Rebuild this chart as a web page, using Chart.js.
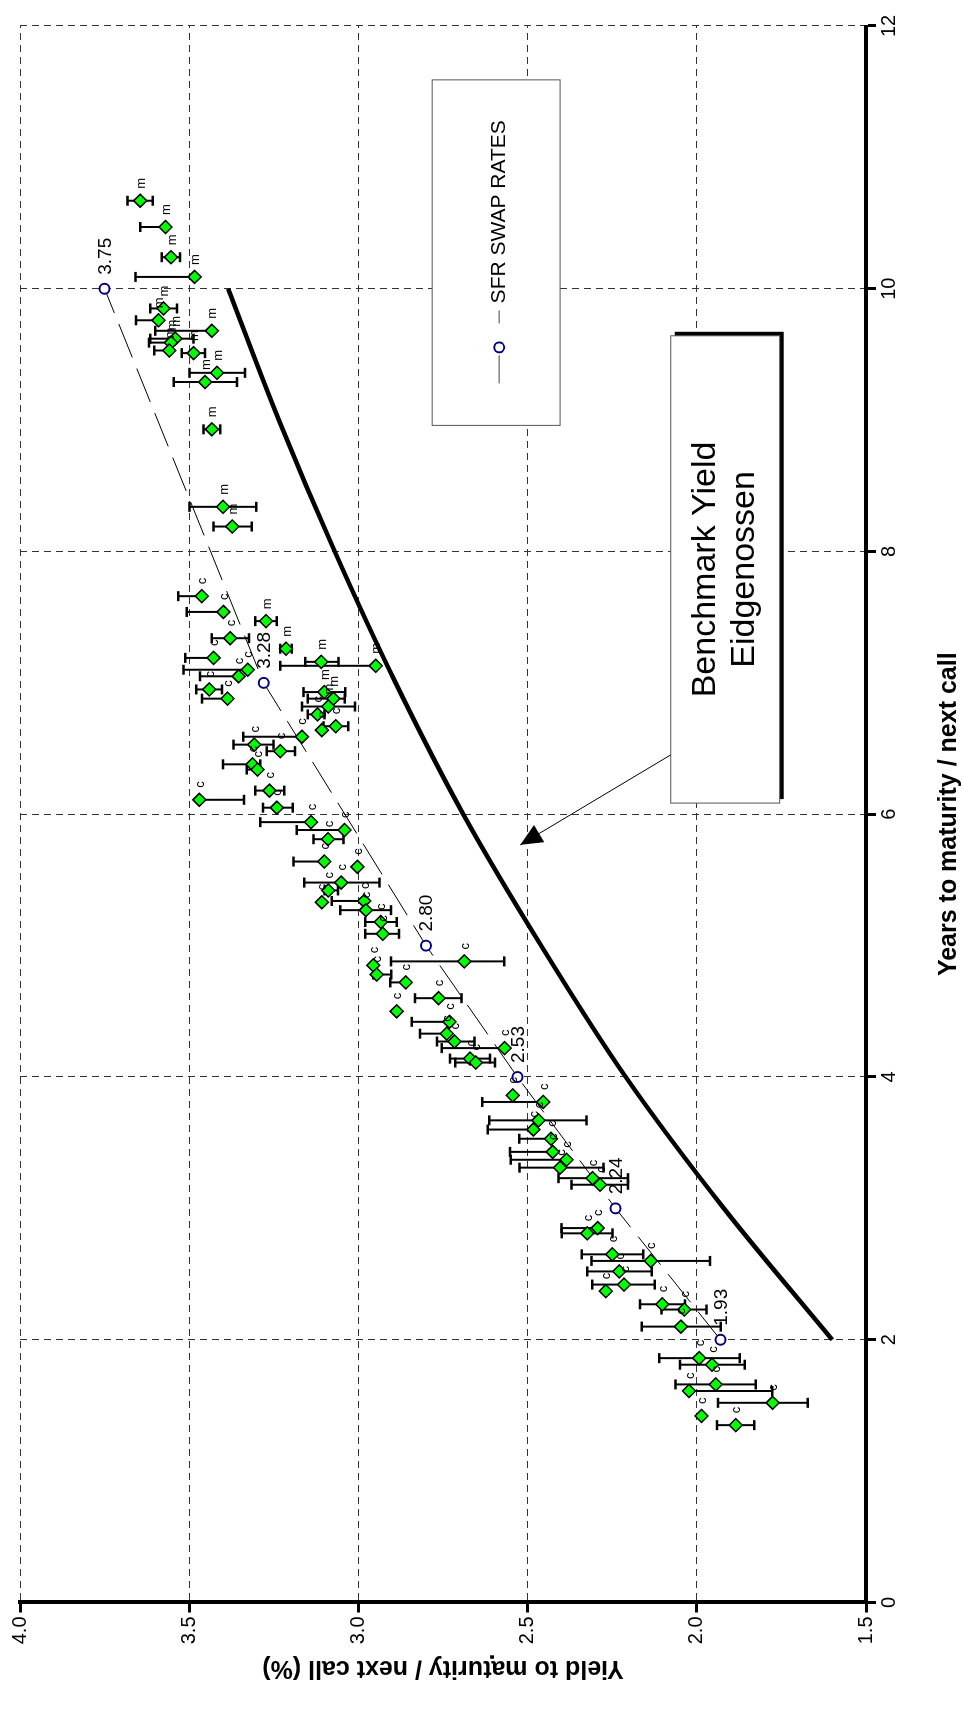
<!DOCTYPE html>
<html>
<head>
<meta charset="utf-8">
<script src="https://cdn.jsdelivr.net/npm/chart.js@4.4.1/dist/chart.umd.min.js"></script>
<style>
  html, body { margin: 0; padding: 0; background: #fff; overflow: hidden; }
  body { width: 964px; height: 1711px; position: relative; }
  /* the chart is drawn landscape and turned a quarter turn to the left */
  #wrap { position: absolute; left: 0; top: 0; width: 1711px; height: 964px;
          transform-origin: 0 0; transform: translateY(1711px) rotate(-90deg); }
</style>
</head>
<body>
<div id="wrap"><canvas id="chart" width="1711" height="964"></canvas></div>
<script>
// bonds: years to maturity / next call, yield, error bar ends, label
const bondYears = [10.67, 10.47, 10.24, 10.09, 9.85, 9.76, 9.68, 9.62, 9.59, 9.53, 9.51, 9.36, 9.29, 8.93, 8.34, 8.19,
  7.66, 7.54, 7.47, 7.34, 7.26, 7.19, 7.16, 7.13, 7.10, 7.05, 6.95, 6.88, 6.93, 6.88, 6.82, 6.76, 6.67, 6.64, 6.59,
  6.53, 6.48, 6.38, 6.34, 6.18, 6.11, 6.05, 5.94, 5.88, 5.81, 5.64, 5.60, 5.48, 5.42, 5.33, 5.34, 5.27, 5.18, 5.09,
  4.88, 4.85, 4.78, 4.72, 4.60, 4.50, 4.42, 4.33, 4.27, 4.22, 4.14, 4.11,
  3.86, 3.81, 3.67, 3.60, 3.53, 3.43, 3.37, 3.31, 3.23, 3.18,
  2.85, 2.81, 2.65, 2.60, 2.52, 2.42, 2.37, 2.27, 2.23, 2.10, 1.86, 1.81, 1.66, 1.61, 1.52, 1.42, 1.35];
const bondYield = [3.645, 3.570, 3.554, 3.484, 3.576, 3.591, 3.433, 3.541, 3.554, 3.559, 3.487, 3.418, 3.453, 3.433, 3.400, 3.373,
  3.463, 3.399, 3.273, 3.379, 3.214, 3.428, 3.110, 2.949, 3.327, 3.354, 3.441, 3.387, 3.101, 3.074, 3.089, 3.121, 3.067, 3.108, 3.167,
  3.308, 3.231, 3.313, 3.298, 3.263, 3.470, 3.241, 3.140, 3.041, 3.090, 3.101, 3.003, 3.051, 3.089, 3.108, 2.983, 2.978, 2.934, 2.928,
  2.687, 2.956, 2.946, 2.860, 2.763, 2.887, 2.731, 2.739, 2.716, 2.568, 2.670, 2.653,
  2.544, 2.454, 2.468, 2.483, 2.431, 2.426, 2.385, 2.404, 2.308, 2.286,
  2.293, 2.324, 2.250, 2.136, 2.229, 2.215, 2.269, 2.102, 2.037, 2.047, 1.993, 1.955, 1.944, 2.023, 1.776, 1.986, 1.885];
const bondHigh = [3.682, 3.645, 3.581, 3.659, 3.615, 3.657, 3.600, 3.615, 3.619, 3.603, 3.522, 3.499, 3.546, 3.458, 3.499, 3.428,
  3.532, 3.507, 3.305, 3.433, 3.231, 3.512, 3.157, 3.231, 3.517, 3.468, 3.479, 3.462, 3.162, 3.150, 3.167, 3.150, 3.103, 3.108, 3.340,
  3.369, 3.271, 3.400, 3.330, 3.305, 3.470, 3.282, 3.290, 3.182, 3.133, 3.192, 3.003, 3.160, 3.100, 3.108, 3.079, 3.054, 2.980, 2.980,
  2.904, 2.956, 2.956, 2.906, 2.833, 2.887, 2.842, 2.818, 2.768, 2.754, 2.729, 2.714,
  2.544, 2.634, 2.613, 2.618, 2.525, 2.552, 2.550, 2.524, 2.409, 2.370,
  2.400, 2.399, 2.340, 2.311, 2.324, 2.309, 2.269, 2.168, 2.104, 2.163, 2.111, 2.050, 2.063, 2.023, 1.937, 1.986, 1.940];
const bondLow = [3.608, 3.570, 3.527, 3.484, 3.536, 3.591, 3.433, 3.487, 3.554, 3.559, 3.453, 3.335, 3.359, 3.408, 3.302, 3.315,
  3.463, 3.399, 3.241, 3.323, 3.197, 3.428, 3.059, 2.949, 3.327, 3.354, 3.403, 3.387, 3.039, 3.040, 3.010, 3.100, 3.030, 3.108, 3.167,
  3.251, 3.187, 3.290, 3.298, 3.219, 3.338, 3.194, 3.140, 3.041, 3.044, 3.101, 3.003, 2.938, 3.060, 3.108, 2.983, 2.904, 2.887, 2.880,
  2.569, 2.956, 2.903, 2.860, 2.695, 2.887, 2.731, 2.739, 2.657, 2.568, 2.611, 2.596,
  2.544, 2.454, 2.326, 2.483, 2.431, 2.426, 2.385, 2.276, 2.203, 2.203,
  2.293, 2.249, 2.158, 1.961, 2.133, 2.124, 2.269, 2.035, 1.971, 1.929, 1.873, 1.858, 1.826, 1.777, 1.672, 1.986, 1.830];
const bondType = ('mmmmmmmmmmmmmmmm' + 'ccmcmcmmccccmmm' +
  'cccccccccc' + 'cccccccccc' + 'cccccccccc' + 'cccccccccc' + 'cccccccccc' + 'cccccccccc' + 'cc').split('');

// SFR swap curve
const swapYears = [2, 3, 4, 5, 7, 10];
const swapRates = [1.93, 2.24, 2.53, 2.80, 3.28, 3.75];

// benchmark yield of the Eidgenossen
const benchYears = [2, 3, 4, 5, 6, 7, 8, 9, 10];
const benchYield = [1.60, 1.92, 2.21, 2.46, 2.69, 2.89, 3.07, 3.235, 3.385];

const yearTicks = [0, 2, 4, 6, 8, 10, 12];
const yieldTicks = [1.5, 2.0, 2.5, 3.0, 3.5, 4.0];

const FONT = '"Liberation Sans", Arial, Helvetica, sans-serif';
Chart.defaults.font.family = FONT;
Chart.defaults.color = '#000';

const pairs = (xs, ys) => xs.map((v, i) => ({x: v, y: ys[i]}));

// error bars under the diamonds
const errorBars = {
  id: 'errorBars',
  beforeDatasetsDraw(chart) {
    const {ctx, scales: {x, y}} = chart;
    ctx.save();
    ctx.strokeStyle = '#000';
    bondYears.forEach((yr, i) => {
      if (bondHigh[i] === bondLow[i]) return;
      const px = x.getPixelForValue(yr);
      const pHi = y.getPixelForValue(bondHigh[i]);
      const pLo = y.getPixelForValue(bondLow[i]);
      ctx.lineWidth = 2;
      ctx.beginPath();
      ctx.moveTo(px, pHi);
      ctx.lineTo(px, pLo);
      ctx.stroke();
      ctx.lineWidth = 2.5;
      ctx.beginPath();
      ctx.moveTo(px - 5, pHi); ctx.lineTo(px + 5, pHi);
      ctx.moveTo(px - 5, pLo); ctx.lineTo(px + 5, pLo);
      ctx.stroke();
    });
    ctx.restore();
  }
};

// c / m labels and swap rate values
const pointLabels = {
  id: 'pointLabels',
  afterDatasetsDraw(chart) {
    const ctx = chart.ctx;
    ctx.save();
    ctx.fillStyle = '#000';
    ctx.textAlign = 'left';
    ctx.textBaseline = 'middle';
    ctx.font = '13px ' + FONT;
    chart.getDatasetMeta(0).data.forEach((pt, i) => {
      ctx.fillText(bondType[i] || '', pt.x + 12, pt.y + 1);
    });
    ctx.font = '19px ' + FONT;
    chart.getDatasetMeta(1).data.forEach((pt, i) => {
      ctx.fillText(swapRates[i].toFixed(2), pt.x + 14, pt.y + 1);
    });
    ctx.restore();
  }
};

// legend box, benchmark call-out and arrow
const annotations = {
  id: 'annotations',
  afterDraw(chart) {
    const {ctx, scales: {x, y}} = chart;
    ctx.save();

    // legend
    const lx1 = x.getPixelForValue(8.96), lx2 = x.getPixelForValue(11.59);
    const ly1 = y.getPixelForValue(2.782), ly2 = y.getPixelForValue(2.404);
    ctx.fillStyle = '#fff';
    ctx.fillRect(lx1, ly1, lx2 - lx1, ly2 - ly1);
    ctx.strokeStyle = '#555';
    ctx.lineWidth = 1;
    ctx.strokeRect(lx1, ly1, lx2 - lx1, ly2 - ly1);
    const cy = (ly1 + ly2) / 2 + 3;
    ctx.strokeStyle = '#444';
    ctx.beginPath();
    ctx.moveTo(lx1 + 42, cy); ctx.lineTo(lx1 + 70, cy);
    ctx.moveTo(lx1 + 102, cy); ctx.lineTo(lx1 + 115, cy);
    ctx.stroke();
    ctx.strokeStyle = '#000080';
    ctx.lineWidth = 2;
    ctx.fillStyle = '#fff';
    ctx.beginPath();
    ctx.arc(lx1 + 78, cy, 5, 0, Math.PI * 2);
    ctx.fill();
    ctx.stroke();
    ctx.fillStyle = '#000';
    ctx.font = '21px ' + FONT;
    ctx.textAlign = 'left';
    ctx.textBaseline = 'middle';
    ctx.fillText('SFR SWAP RATES', lx1 + 122, cy);

    // benchmark box with shadow
    const bx1 = x.getPixelForValue(6.085), bx2 = x.getPixelForValue(9.642);
    const by1 = y.getPixelForValue(2.077), by2 = y.getPixelForValue(1.755);
    ctx.fillStyle = '#000';
    ctx.fillRect(bx1 + 4, by1 + 4, bx2 - bx1, by2 - by1);
    ctx.fillStyle = '#fff';
    ctx.fillRect(bx1, by1, bx2 - bx1, by2 - by1);
    ctx.strokeStyle = '#555';
    ctx.lineWidth = 1;
    ctx.strokeRect(bx1, by1, bx2 - bx1, by2 - by1);
    ctx.fillStyle = '#000';
    ctx.font = '34px ' + FONT;
    ctx.textAlign = 'center';
    const bcx = (bx1 + bx2) / 2, bcy = (by1 + by2) / 2;
    ctx.fillText('Benchmark Yield', bcx, bcy - 20);
    ctx.fillText('Eidgenossen', bcx, bcy + 19);

    // arrow from the box towards the curve
    const ax1 = x.getPixelForValue(6.452), ay1 = by1;
    const ax2 = x.getPixelForValue(5.767), ay2 = y.getPixelForValue(2.522);
    ctx.strokeStyle = '#000';
    ctx.lineWidth = 1;
    ctx.beginPath();
    ctx.moveTo(ax1, ay1);
    ctx.lineTo(ax2, ay2);
    ctx.stroke();
    const ang = Math.atan2(ay2 - ay1, ax2 - ax1);
    const hl = 22, hw = 10;
    ctx.beginPath();
    ctx.moveTo(ax2, ay2);
    ctx.lineTo(ax2 - hl * Math.cos(ang) + hw * Math.sin(ang), ay2 - hl * Math.sin(ang) - hw * Math.cos(ang));
    ctx.lineTo(ax2 - hl * Math.cos(ang) - hw * Math.sin(ang), ay2 - hl * Math.sin(ang) + hw * Math.cos(ang));
    ctx.closePath();
    ctx.fill();

    // stray dot beside the y title
    ctx.font = 'bold 25px ' + FONT;
    ctx.textAlign = 'center';
    ctx.textBaseline = 'middle';
    ctx.fillText('.', 54, y.getPixelForValue(2.62));
    ctx.restore();
  }
};

new Chart(document.getElementById('chart'), {
  type: 'scatter',
  data: {
    datasets: [{
      label: 'Bonds',
      data: pairs(bondYears, bondYield),
      pointStyle: 'rectRot',
      pointRadius: 6.5,
      pointBackgroundColor: '#00ff00',
      pointBorderColor: '#000',
      pointBorderWidth: 1.5
    }, {
      label: 'SFR SWAP RATES',
      type: 'line',
      data: pairs(swapYears, swapRates),
      borderColor: '#000',
      borderWidth: 1,
      borderDash: [36, 12],
      pointStyle: 'circle',
      pointRadius: 5,
      pointBorderWidth: 2,
      pointBorderColor: '#000080',
      pointBackgroundColor: '#fff',
      fill: false
    }, {
      label: 'Benchmark Yield Eidgenossen',
      type: 'line',
      data: pairs(benchYears, benchYield),
      borderColor: '#000',
      borderWidth: 4.5,
      cubicInterpolationMode: 'monotone',
      pointRadius: 0,
      fill: false
    }]
  },
  options: {
    responsive: false,
    animation: false,
    events: [],
    devicePixelRatio: 1,
    layout: { padding: { top: 20, right: 26, left: 0, bottom: 0 } },
    plugins: {
      legend: { display: false },
      tooltip: { enabled: false }
    },
    scales: {
      x: {
        type: 'linear',
        min: 0, max: 12,
        afterBuildTicks: s => { s.ticks = yearTicks.map(v => ({value: v})); },
        afterFit: s => { s.height = 98; },
        ticks: { font: { size: 20 }, padding: 1, callback: v => String(v) },
        grid: { color: '#333', lineWidth: 1, tickLength: 10, tickColor: '#000', tickWidth: 3, tickBorderDash: [] },
        border: { color: '#000', width: 4, dash: [7, 5] },
        title: { display: true, text: 'Years to maturity / next call', font: { size: 25, weight: 'bold' },
                 padding: { top: 0, bottom: 0 } }
      },
      y: {
        type: 'linear',
        min: 1.5, max: 4.0,
        afterBuildTicks: s => { s.ticks = yieldTicks.map(v => ({value: v})); },
        afterFit: s => { s.width = 108.5; },
        ticks: { font: { size: 20 }, padding: 4, callback: v => Number(v).toFixed(1) },
        grid: { color: '#333', lineWidth: 1, tickLength: 10, tickColor: '#000', tickWidth: 3, tickBorderDash: [] },
        border: { color: '#000', width: 4, dash: [7, 5] },
        title: { display: true, text: 'Yield to maturity / next call (%)', font: { size: 25, weight: 'bold' },
                 padding: { top: 28, bottom: 0 } }
      }
    }
  },
  plugins: [errorBars, pointLabels, annotations]
});
</script>
</body>
</html>
